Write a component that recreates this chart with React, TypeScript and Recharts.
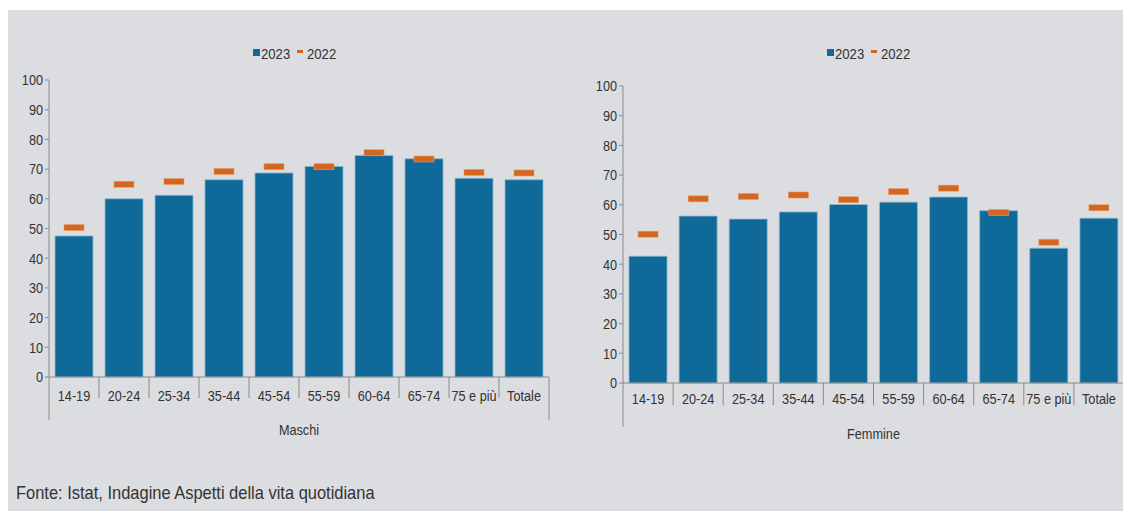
import React from 'react';
import { ComposedChart, Bar, Line, XAxis, YAxis } from 'recharts';

const categories = ['14-19', '20-24', '25-34', '35-44', '45-54', '55-59', '60-64', '65-74', '75 e più', 'Totale'];
const maschi2023 = [47.5, 60.0, 61.2, 66.4, 68.7, 70.9, 74.6, 73.5, 66.9, 66.4];
const maschi2022 = [50.3, 64.9, 65.8, 69.2, 70.8, 70.8, 75.5, 73.4, 68.9, 68.7];
const femmine2023 = [42.7, 56.2, 55.2, 57.6, 60.1, 60.9, 62.6, 58.0, 45.4, 55.5];
const femmine2022 = [50.1, 62.0, 62.8, 63.3, 61.7, 64.4, 65.6, 57.4, 47.4, 59.0];
const yTicks = [0, 10, 20, 30, 40, 50, 60, 70, 80, 90, 100];

const FONT = "'Liberation Sans', Arial, sans-serif";
const SX = 0.83;
const BLUE = '#0f6a9a';
const ORANGE = '#d4661f';
const AXIS = '#8a8a8a';
const TEXT = '#333333';

const buildData = (a: number[], b: number[]) =>
  categories.map((c, i) => ({ cat: c, v2023: a[i], v2022: b[i] }));

const NText = ({ x, y, anchor, size, sx, children }: any) => (
  <text
    transform={`translate(${x},${y}) scale(${sx ?? SX},1)`}
    x={0}
    y={0}
    textAnchor={anchor}
    fill={TEXT}
    fontSize={size ?? 15.3}
    fontFamily={FONT}
  >
    {children}
  </text>
);

const Marker = (props: any) => {
  const { cx, cy } = props;
  if (cx == null || cy == null) return null;
  return <rect x={cx - 10} y={cy - 3} width={20} height={6} fill={ORANGE} stroke="#e59a66" strokeWidth={0.6} />;
};

const makeXTick = (shortLen: number, longLen: number, baseDy: number, half: number) => (props: any) => {
  const { x, y, payload, index } = props;
  const h = payload && payload.offset ? payload.offset : half;
  const left = x - h;
  const right = x + h;
  const last = index === categories.length - 1;
  return (
    <g>
      <line x1={left} x2={left} y1={y} y2={y + (index === 0 ? longLen : shortLen)} stroke={AXIS} strokeWidth={1} />
      {last && <line x1={right} x2={right} y1={y} y2={y + longLen} stroke={AXIS} strokeWidth={1} />}
      <NText x={x} y={y + baseDy} anchor="middle">{payload.value}</NText>
    </g>
  );
};

const YTick = (props: any) => {
  const { x, y, payload } = props;
  return <NText x={x} y={y + 5.3} anchor="end">{payload.value}</NText>;
};

const makeGroupLabel = (text: string, dy: number) => (props: any) => {
  const vb = props.viewBox || {};
  const cx = (vb.x ?? 0) + (vb.width ?? 0) / 2;
  return <NText x={cx} y={(vb.y ?? 0) + dy} anchor="middle">{text}</NText>;
};

const LegendBox = ({ left, top }: { left: number; top: number }) => (
  <svg style={{ position: 'absolute', left, top }} width={110} height={34}>
    <rect x={0} y={11} width={7} height={7} fill={BLUE} />
    <NText x={8} y={21.3} anchor="start" sx={0.86}>2023</NText>
    <rect x={44} y={12} width={6} height={3} fill={ORANGE} />
    <NText x={54} y={21.3} anchor="start" sx={0.86}>2022</NText>
  </svg>
);

const Panel = ({ data, label, width, height, margin, shortLen, longLen, baseDy, labelDy }: any) => (
  <ComposedChart width={width} height={height} data={data} margin={margin} barCategoryGap={0}>
    <YAxis
      type="number"
      domain={[0, 100]}
      ticks={yTicks}
      interval={0}
      width={41}
      axisLine={{ stroke: AXIS }}
      tickLine={{ stroke: AXIS }}
      tickSize={4}
      tickMargin={2}
      tick={YTick}
    />
    <XAxis
      dataKey="cat"
      type="category"
      interval={0}
      height={60}
      axisLine={{ stroke: AXIS }}
      tickLine={false}
      tickSize={0}
      tickMargin={0}
      tick={makeXTick(shortLen, longLen, baseDy, 25)}
      label={{ content: makeGroupLabel(label, labelDy) }}
    />
    <Bar dataKey="v2023" fill={BLUE} stroke="#8db7cc" strokeWidth={0.8} barSize={38} isAnimationActive={false} />
    <Line dataKey="v2022" stroke="none" dot={<Marker />} activeDot={false} isAnimationActive={false} />
  </ComposedChart>
);

export default function App() {
  const maschi = buildData(maschi2023, maschi2022);
  const femmine = buildData(femmine2023, femmine2022);
  return (
    <div style={{ position: 'relative', marginTop: 2, width: 1123, height: 501, background: '#dcdde0' }}>
      <LegendBox left={245} top={28} />
      <LegendBox left={819} top={28} />
      <div style={{ position: 'absolute', left: 0, top: 0 }}>
        <Panel data={maschi} label="Maschi" width={560} height={427}
          margin={{ top: 70, right: 19, bottom: 0, left: 0 }}
          shortLen={21} longLen={43} baseDy={24.3} labelDy={57.5} />
      </div>
      <div style={{ position: 'absolute', left: 574, top: 0 }}>
        <Panel data={femmine} label="Femmine" width={549} height={433}
          margin={{ top: 76, right: 7, bottom: 0, left: 0 }}
          shortLen={22} longLen={44} baseDy={20.5} labelDy={56} />
      </div>
      <svg style={{ position: 'absolute', left: 0, top: 460 }} width={500} height={40}>
        <NText x={8} y={28.7} anchor="start" size={18.5} sx={0.89}>
          Fonte: Istat, Indagine Aspetti della vita quotidiana
        </NText>
      </svg>
    </div>
  );
}
